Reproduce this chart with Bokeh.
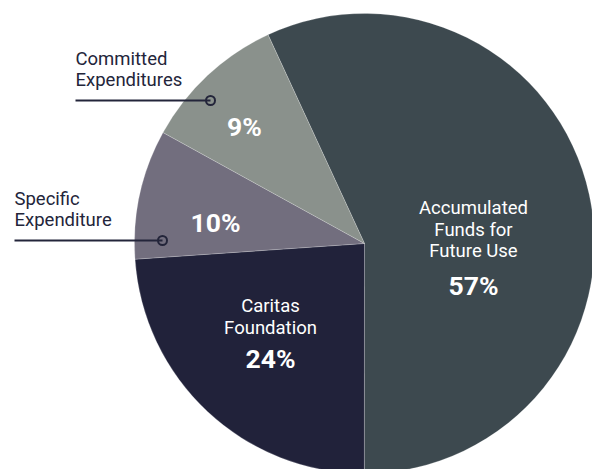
import math
from bokeh.plotting import figure
from bokeh.models import Range1d, ColumnDataSource
from bokeh.core.properties import value
from bokeh.embed import file_html
from bokeh.resources import INLINE

# ---- data ----
categories = ["Accumulated Funds for Future Use", "Caritas Foundation",
              "Specific Expenditure", "Committed Expenditures"]
shares = [56.9, 23.9, 9.1, 10.1]          # wedge sizes as drawn
pct_labels = ["57%", "24%", "10%", "9%"]   # percentages as printed
colors = ["#3d494f", "#21223a", "#726e7e", "#8a918c"]

# ---- layout (pixels, y up) ----
W, H = 592, 469
OFF = 0
PAGE_H = 469
CX, CY_IMG, R = 364, 243, 230
CY = PAGE_H - CY_IMG
START_CW = 335.2  # first wedge starts this many degrees clockwise from 12 o'clock

p = figure(width=W, height=H, output_backend="svg", toolbar_location=None,
           x_range=Range1d(OFF, OFF + W), y_range=Range1d(PAGE_H - OFF - H, PAGE_H - OFF),
           min_border=0, outline_line_color=None)
p.axis.visible = False
p.grid.visible = False
p.background_fill_color = "white"

total = sum(shares)
theta0 = math.radians(90 - START_CW)
starts, ends = [], []
cum = 0.0
for s in shares:
    a0 = theta0 - 2 * math.pi * (cum + s) / total
    a1 = theta0 - 2 * math.pi * cum / total
    starts.append(a0)
    ends.append(a1)
    cum += s

src = ColumnDataSource(dict(x=[CX] * 4, y=[CY] * 4, start=starts, end=ends,
                            color=colors, cat=categories))
p.wedge(x="x", y="y", radius=R, start_angle="start", end_angle="end",
        fill_color="color", line_color="white", line_width=0.6, line_alpha=0.35,
        source=src)

FONT = value("Roboto")

def img(x, y):
    return x, PAGE_H - y

# inside labels (image coordinates of each line)
inside = [
    (["Accumulated", "Funds for", "Future Use"], [(473, 207), (473, 229), (473, 250)], 0, (473, 285)),
    (["Caritas", "Foundation"], [(270, 305), (270, 327)], 1, (270, 358)),
    ([], [], 2, (215, 222)),
    ([], [], 3, (244, 126)),
]
for lines, poss, idx, ppos in inside:
    for t, (x, y) in zip(lines, poss):
        xx, yy = img(x, y)
        p.text(x=[xx], y=[yy], text=[t], text_color="white", text_font=FONT,
               text_font_size="18.5px", text_align="center", text_baseline="middle")
    xx, yy = img(*ppos)
    p.text(x=[xx], y=[yy], text=[pct_labels[idx]], text_color="white", text_font=FONT,
           text_font_size="26.5px", text_font_style="bold", text_align="center",
           text_baseline="middle")

# outside labels with leader lines
DARK = "#23253a"
outside = [
    (["Committed", "Expenditures"], 75, [58, 79], (75, 210, 100)),
    (["Specific", "Expenditure"], 14, [198, 219], (14, 162, 240)),
]
for lines, lx, lys, (x0, x1, ly) in outside:
    for t, y in zip(lines, lys):
        xx, yy = img(lx, y)
        p.text(x=[xx], y=[yy], text=[t], text_color=DARK, text_font=FONT,
               text_font_size="18.5px", text_align="left", text_baseline="middle")
    a, yy = img(x0, ly)
    b, _ = img(x1, ly)
    p.line(x=[a, b], y=[yy, yy], line_color=DARK, line_width=2)
    p.scatter(x=[b], y=[yy], size=9, marker="circle", line_color=DARK, line_width=2,
              fill_alpha=0)

open("out.html", "w").write(file_html(p, INLINE))
